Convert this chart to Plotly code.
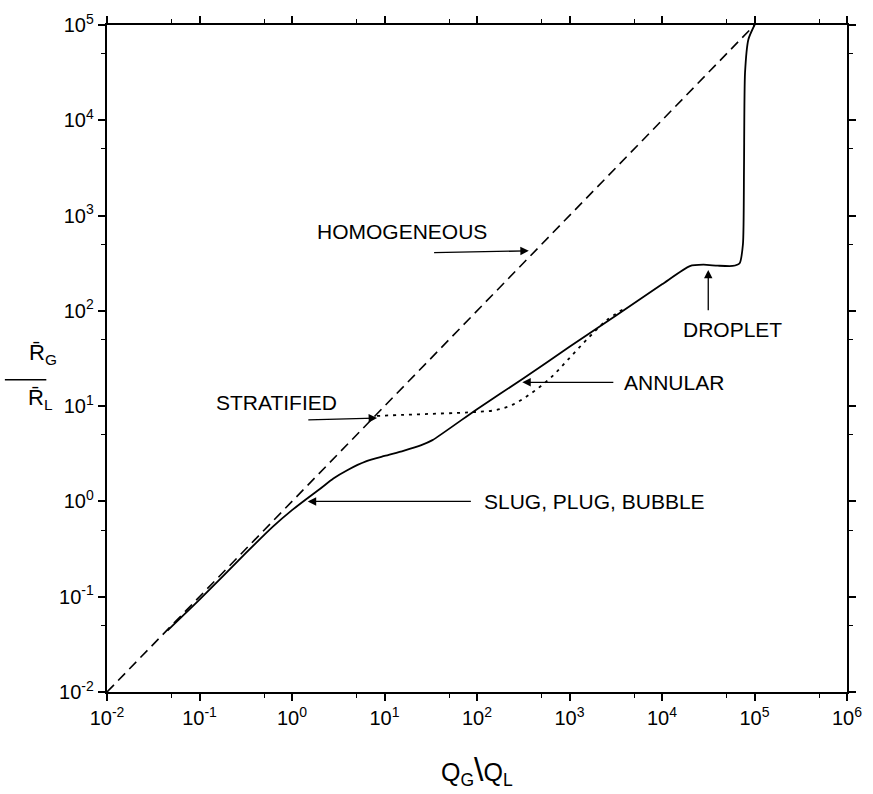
import plotly.graph_objects as go

# ---- data ----
homog_x = [0.01, 1.3e5]
homog_y = [0.01, 1.3e5]

main_x = [0.045, 0.1, 0.32, 0.63, 1.0, 1.41, 2.0, 2.8, 4.0, 6.3, 10, 16, 25, 33, 100, 316, 1000, 3160,
          1e4, 2e4, 2.8e4, 4e4, 5.8e4, 6.9e4, 7.5e4, 7.7e4, 7.9e4, 8.6e4, 1e5]
main_y = [0.044, 0.093, 0.29, 0.55, 0.81, 1.05, 1.35, 1.74, 2.14, 2.63, 3.0, 3.4, 3.9, 4.4, 9.3, 19.5, 42, 89,
          190, 295, 305, 298, 296, 316, 500, 3160, 31600, 7.1e4, 1e5]

strat_x = [8.3, 16, 32, 63, 100, 160, 250, 400, 630, 1000, 1600, 2500, 4000]
strat_y = [7.9, 8.1, 8.3, 8.5, 8.7, 9.1, 10.5, 14, 20, 32, 52, 79, 107]

x_ticks = [1e-2, 1e-1, 1e0, 1e1, 1e2, 1e3, 1e4, 1e5, 1e6]
x_exps = ["-2", "-1", "0", "1", "2", "3", "4", "5", "6"]
y_ticks = [1e-2, 1e-1, 1e0, 1e1, 1e2, 1e3, 1e4, 1e5]
y_exps = ["-2", "-1", "0", "1", "2", "3", "4", "5"]
minor_x = [5e-2, 5e-1, 5e0, 5e1, 5e2, 5e3, 5e4, 5e5]
minor_y = [5e-2, 5e-1, 5e0, 5e1, 5e2, 5e3, 5e4]

# annotation labels: (text, tip_logx, tip_logy, tail_logx, tail_logy, text_logx, text_logy, anchor)
labels = [
    ("HOMOGENEOUS", 2.56, 2.63, 1.52, 2.61, 1.19, 2.83, "center"),
    ("STRATIFIED", 0.92, 0.875, 0.16, 0.855, -0.17, 1.04, "center"),
    ("ANNULAR", 2.49, 1.25, 3.49, 1.25, 3.57, 1.25, "left"),
    ("SLUG, PLUG, BUBBLE", 0.17, 0.0, 1.95, 0.0, 2.05, 0.0, "left"),
    ("DROPLET", 4.50, 2.43, 4.50, 1.99, 4.76, 1.80, "center"),
]

FONT = "Liberation Sans, Arial, Helvetica, sans-serif"


def pow_label(e):
    return "10<sup style='font-size:17px'>%s</sup>" % e


fig = go.Figure()
fig.add_trace(go.Scatter(x=homog_x, y=homog_y, mode="lines",
                         line=dict(color="black", width=1.6, dash="10px,6px"),
                         showlegend=False, hoverinfo="skip"))
fig.add_trace(go.Scatter(x=strat_x, y=strat_y, mode="lines",
                         line=dict(color="black", width=1.8, dash="3px,5px", shape="spline"),
                         showlegend=False, hoverinfo="skip"))
fig.add_trace(go.Scatter(x=main_x, y=main_y, mode="lines",
                         line=dict(color="black", width=1.8, shape="spline", smoothing=0.6),
                         showlegend=False, hoverinfo="skip"))

for text, tx, ty, ax, ay, lx, ly, anchor in labels:
    fig.add_annotation(x=tx, y=ty, ax=ax, ay=ay, xref="x", yref="y", axref="x", ayref="y",
                       text="", showarrow=True, arrowhead=2, arrowsize=1.3, arrowwidth=1.3,
                       arrowcolor="black")
    fig.add_annotation(x=lx, y=ly, xref="x", yref="y", text=text, showarrow=False,
                       xanchor=anchor, yanchor="middle",
                       font=dict(family=FONT, size=21, color="black"))

# axis titles
fig.add_annotation(x=0.5, y=-0.117, xref="paper", yref="paper", yanchor="middle",
                   text="Q<sub style='font-size:19px'>G</sub>"
                        "<span style='font-size:34px'>\\</span>"
                        "Q<sub style='font-size:19px'>L</sub>",
                   showarrow=False,
                   font=dict(family=FONT, size=25, color="black"))
fig.add_annotation(x=-0.108, y=0.507, xref="paper", yref="paper",
                   text="R\u0304<sub style='font-size:19px'>G</sub>", showarrow=False,
                   font=dict(family=FONT, size=22, color="black"))
fig.add_annotation(x=-0.11, y=0.44, xref="paper", yref="paper",
                   text="R\u0304<sub style='font-size:19px'>L</sub>", showarrow=False,
                   font=dict(family=FONT, size=22, color="black"))
fig.add_shape(type="line", xref="paper", yref="paper", x0=-0.138, x1=-0.082,
              y0=0.468, y1=0.468, line=dict(color="black", width=1.5))

axis_common = dict(type="log", showgrid=False, zeroline=False, showline=True,
                   linecolor="black", linewidth=2.4, mirror="allticks", ticks="outside",
                   ticklen=7, tickwidth=2, tickcolor="black",
                   tickfont=dict(family=FONT, size=20, color="black"))

fig.update_xaxes(range=[-2, 6], tickvals=x_ticks, ticktext=[pow_label(e) for e in x_exps],
                 minor=dict(tickvals=minor_x, ticks="outside", ticklen=4, tickwidth=1.2,
                            tickcolor="black"),
                 **axis_common)
fig.update_yaxes(range=[-2, 5], tickvals=y_ticks, ticktext=[pow_label(e) for e in y_exps],
                 minor=dict(tickvals=minor_y, ticks="outside", ticklen=4, tickwidth=1.2,
                            tickcolor="black"),
                 **axis_common)

fig.update_layout(width=873, height=794, margin=dict(l=107, r=26, t=25, b=102),
                  plot_bgcolor="white", paper_bgcolor="white",
                  font=dict(family=FONT, color="black"))

fig.write_html("out.html")
